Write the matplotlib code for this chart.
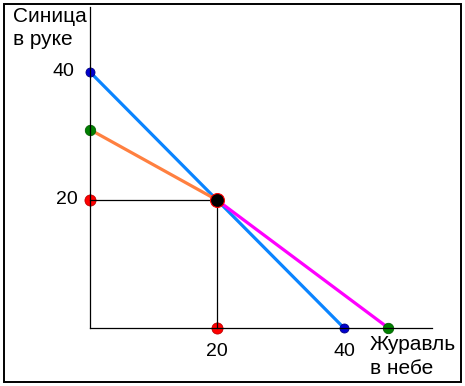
import matplotlib
matplotlib.use("Agg")
import matplotlib.pyplot as plt
from matplotlib.patches import Rectangle

plt.rcParams["font.family"] = ["Liberation Sans", "DejaVu Sans"]

# budget lines (x = crane in the sky, y = tit in the hand)
blue_x = [0, 40]
blue_y = [40, 0]
orange_x = [0, 20]
orange_y = [31, 20]
magenta_x = [20, 47]
magenta_y = [20, 0]

# point of choice and its projections
choice = (20, 20)
red_x = [0, 20]
red_y = [20, 0]

y_ticks = [40, 20]
x_ticks = [20, 40]

W, H = 465, 386
fig = plt.figure(figsize=(W / 100, H / 100), dpi=100)

# axes placed so that the spines sit where the reference draws them
ax_left, ax_right, ax_top, ax_bottom = 90, 432, 7, 328
ax = fig.add_axes([ax_left / W, 1 - ax_bottom / H,
                   (ax_right - ax_left) / W, (ax_bottom - ax_top) / H])
ax.set_xlim(0, (ax_right - ax_left) / 6.35)
ax.set_ylim(0, (ax_bottom - ax_top) / 6.4)
for s in ["top", "right"]:
    ax.spines[s].set_visible(False)
for s in ["left", "bottom"]:
    ax.spines[s].set_linewidth(0.9)
    ax.spines[s].set_zorder(2.5)
ax.set_xticks([])
ax.set_yticks([])
ax.patch.set_visible(False)

lw = 2.3
ax.plot(blue_x, blue_y, color="#0a84ff", lw=lw, clip_on=False, zorder=2)
ax.plot(orange_x, orange_y, color="#ff8040", lw=lw, clip_on=False, zorder=2)
ax.plot(magenta_x, magenta_y, color="#ff00ff", lw=lw, clip_on=False, zorder=2.1)

# guide lines from the choice point
ax.plot([0, choice[0]], [choice[1], choice[1]], color="black", lw=0.9,
        clip_on=False, zorder=2.5)
ax.plot([choice[0], choice[0]], [0, choice[1]], color="black", lw=0.9,
        clip_on=False, zorder=2.5)

# end points
ax.plot([blue_x[0], blue_x[1]], [blue_y[0], blue_y[1]], ls="none", marker="o",
        ms=6.5, mfc="#0000d0", mec="#000080", mew=0.6, clip_on=False, zorder=2.2)
ax.plot([orange_x[0], magenta_x[1]], [orange_y[0], magenta_y[1]], ls="none",
        marker="o", ms=7.5, mfc="#008000", mec="#006000", mew=0.6,
        clip_on=False, zorder=2.2)
ax.plot([red_x[0], choice[0]], [choice[1], red_y[1]], ls="none", marker="o",
        ms=8, mfc="#ff0000", mec="#c00000", mew=0.6, clip_on=False, zorder=2.2)
ax.plot([choice[0]], [choice[1]], ls="none", marker="o", ms=10,
        mfc="black", mec="red", mew=0.8, clip_on=False, zorder=3)

fs = 14
for v in y_ticks:
    ax.annotate(str(v), (0, v), xytext=(-16 if v == 40 else -12, 0),
                textcoords="offset pixels", ha="right", va="center",
                fontsize=fs, annotation_clip=False)
for v in x_ticks:
    ax.annotate(str(v), (v, 0), xytext=(0, -23), textcoords="offset pixels",
                ha="center", va="center", fontsize=fs, annotation_clip=False)

fig.text(13 / W, 1 - 45 / H, "Синица\nв руке", ha="left", va="baseline",
         fontsize=15, linespacing=1.3)
fig.text(370 / W, 1 - 374 / H, "Журавль\nв небе", ha="left", va="baseline",
         fontsize=15, linespacing=1.3)

fig.add_artist(Rectangle((3.5 / W, 1 - 381.5 / H), 457 / W, 378 / H,
                         transform=fig.transFigure, fill=False,
                         edgecolor="black", lw=1.4))

fig.savefig("out.png", dpi=100)
